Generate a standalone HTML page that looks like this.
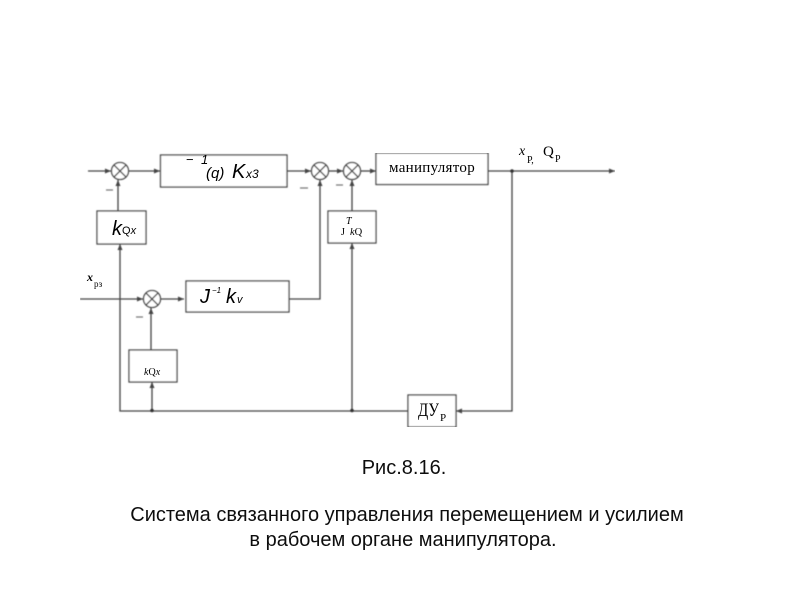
<!DOCTYPE html>
<html>
<head>
<meta charset="utf-8">
<style>
html,body{margin:0;padding:0;background:#fff;}
svg{display:block;}
.s{font-family:"Liberation Sans",sans-serif;}
.f{font-family:"Liberation Serif",serif;}
</style>
</head>
<body>
<svg width="800" height="600" viewBox="0 0 800 600" xmlns="http://www.w3.org/2000/svg">
<defs>
<marker id="a" markerWidth="7" markerHeight="6" refX="6" refY="3" orient="auto" markerUnits="userSpaceOnUse"><path d="M0,0.5 L6,3 L0,5.5 Z" fill="#444"/></marker>
<filter id="b" x="0" y="0" width="100%" height="100%"><feGaussianBlur stdDeviation="0.4"/></filter>
<filter id="c" x="0" y="0" width="100%" height="100%"><feGaussianBlur stdDeviation="0.25"/></filter>
</defs>
<g filter="url(#b)">
<g fill="none" stroke="#444" stroke-width="1.3">
<!-- connectors -->
<path d="M88 171H111" marker-end="url(#a)"/>
<path d="M129 171H160" marker-end="url(#a)"/>
<path d="M287 171H311" marker-end="url(#a)"/>
<path d="M329 171H343" marker-end="url(#a)"/>
<path d="M361 171H376" marker-end="url(#a)"/>
<path d="M488 171H615" marker-end="url(#a)"/>
<path d="M118 211V180" marker-end="url(#a)"/>
<path d="M352 211V180" marker-end="url(#a)"/>
<path d="M289 299H320V180" marker-end="url(#a)"/>
<path d="M80 299H143" marker-end="url(#a)"/>
<path d="M161 299H184" marker-end="url(#a)"/>
<path d="M151 350V308" marker-end="url(#a)"/>
<path d="M408 411H120V244" marker-end="url(#a)"/>
<path d="M152 411V382" marker-end="url(#a)"/>
<path d="M352 411V243" marker-end="url(#a)"/>
<path d="M512 171V411H456" marker-end="url(#a)"/>
<!-- boxes -->
<rect x="160.500" y="155" width="126.500" height="32" fill="#fff"/>
<rect x="97" y="211" width="49" height="33" fill="#fff"/>
<rect x="328" y="211" width="48" height="32" fill="#fff"/>
<rect x="376" y="153" width="112" height="31.500" fill="#fff"/>
<rect x="186" y="281" width="103" height="31" fill="#fff"/>
<rect x="129" y="350" width="48" height="32" fill="#fff"/>
<rect x="408" y="395" width="48" height="32" fill="#fff"/>
<!-- summing junctions -->
<g fill="#fff">
<circle cx="120" cy="171" r="8.500"/><path d="M114 165L126 177M126 165L114 177"/>
<circle cx="320" cy="171" r="8.500"/><path d="M314 165L326 177M326 165L314 177"/>
<circle cx="352" cy="171" r="8.500"/><path d="M346 165L358 177M358 165L346 177"/>
<circle cx="152" cy="299" r="8.500"/><path d="M146 293L158 305M158 293L146 305"/>
</g>
<!-- minus signs -->
<path d="M106 190H113M300 188H308M336 185H343M136 317H143" stroke="#777"/>
</g>
<!-- junction dots -->
<g fill="#333">
<circle cx="512" cy="171" r="1.800"/>
<circle cx="152" cy="410.500" r="1.800"/>
<circle cx="352" cy="410.500" r="1.800"/>
</g>
</g>
<g filter="url(#c)">
<!-- block labels -->
<g fill="#000">
<text class="s" x="186" y="164" font-size="13">−</text>
<text class="s" x="201" y="164" font-size="13" font-style="italic">1</text>
<text class="s" x="206" y="178" font-size="15" font-style="italic">(q)</text>
<text class="s" x="232" y="178" font-size="20" font-style="italic">K</text>
<text class="s" x="246" y="178" font-size="12" font-style="italic">x3</text>
<text class="s" x="112" y="235" font-size="20" font-style="italic">k</text>
<text class="s" x="122" y="234" font-size="11">Q<tspan font-style="italic">x</tspan></text>
<text class="f" x="346" y="224" font-size="10" font-style="italic">T</text>
<text class="f" x="341" y="235" font-size="10">J</text>
<text class="f" x="350" y="235" font-size="10.500"><tspan font-style="italic">k</tspan>Q</text>
<text class="f" x="389" y="172" font-size="15" letter-spacing=".3">манипулятор</text>
<text class="f" x="519" y="155" font-size="14" font-style="italic">x</text>
<text class="f" x="527" y="163" font-size="10">Р,</text>
<text class="f" x="543" y="156" font-size="15">Q</text>
<text class="f" x="555" y="162" font-size="10">Р</text>
<text class="f" x="87" y="281" font-size="12" font-weight="bold" font-style="italic">x</text>
<text class="f" x="94" y="287" font-size="9">рз</text>
<text class="s" x="200" y="303" font-size="20" font-style="italic">J</text>
<text class="s" x="212" y="293" font-size="8" font-style="italic">−1</text>
<text class="s" x="226" y="303" font-size="20" font-style="italic">k</text>
<text class="s" x="237" y="303" font-size="11" font-style="italic">v</text>
<text class="f" x="144" y="375" font-size="10"><tspan font-style="italic">k</tspan>Q<tspan font-style="italic">x</tspan></text>
<text class="f" x="418" y="416" font-size="19" textLength="21" lengthAdjust="spacingAndGlyphs">ДУ</text>
<text class="f" x="440" y="421" font-size="11">Р</text>
</g>
<!-- caption -->
<g class="s" fill="#111" font-size="20" text-anchor="middle">
<text x="404" y="474">Рис.8.16.</text>
<text x="407" y="521">Система связанного управления перемещением и усилием</text>
<text x="403" y="546">в рабочем органе манипулятора.</text>
</g>
</g>
</svg>
</body>
</html>
